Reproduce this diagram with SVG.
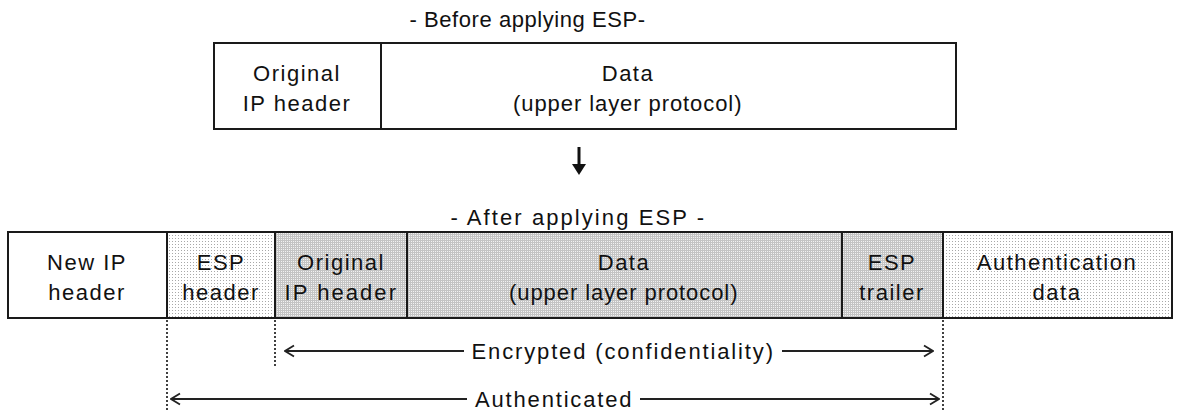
<svg xmlns="http://www.w3.org/2000/svg" width="1179" height="410" viewBox="0 0 1179 410">
<style>
text{font-family:"Liberation Sans",Arial,sans-serif;font-size:22px;fill:#111;text-anchor:middle;letter-spacing:1.5px}
.box{stroke:#1a1a1a;stroke-width:2}
.dot{stroke:#111;stroke-width:1.6;stroke-dasharray:2 2;fill:none}
.arr{stroke:#222;stroke-width:1.8;fill:none}
</style>
<defs>
<pattern id="light" width="3" height="3" patternUnits="userSpaceOnUse">
<rect width="3" height="3" fill="#fff"/>
<rect x="1" y="1" width="1" height="1" fill="#a8a8a8"/>
</pattern>
<pattern id="dark" width="2" height="2" patternUnits="userSpaceOnUse">
<rect width="2" height="2" fill="#c4c4c4"/>
<rect x="1" y="1" width="1" height="1" fill="#f2f2f2"/>
</pattern>
<marker id="open" viewBox="0 0 12 14" refX="11" refY="7" markerWidth="12" markerHeight="14" markerUnits="userSpaceOnUse" orient="auto-start-reverse">
<path d="M2,1.5 L11,7 L2,12.5" fill="none" stroke="#222" stroke-width="1.8"/>
</marker>
</defs>

<text x="528" y="27" textLength="237" lengthAdjust="spacing">- Before applying ESP-</text>

<g id="before-orig-ip">
<rect class="box" x="214" y="43" width="167" height="86" fill="#fff"/>
<text x="297" y="81">Original</text>
<text x="297" y="111">IP header</text>
</g>
<g id="before-data">
<rect class="box" x="381" y="43" width="575" height="86" fill="#fff"/>
<text x="628" y="81">Data</text>
<text x="628" y="111" textLength="230" lengthAdjust="spacing">(upper layer protocol)</text>
</g>

<g id="down-arrow">
<line x1="579" y1="147" x2="579" y2="167" stroke="#111" stroke-width="3"/>
<path d="M572,164 L586,164 L579,175 Z" fill="#111"/>
</g>

<text x="578" y="225" textLength="255" lengthAdjust="spacing">- After applying ESP -</text>

<g id="new-ip">
<rect class="box" x="8" y="232" width="159" height="86" fill="#fff"/>
<text x="87" y="270">New IP</text>
<text x="87" y="300">header</text>
</g>
<g id="esp-header">
<rect class="box" x="167" y="232" width="108" height="86" fill="url(#light)"/>
<text x="221" y="270">ESP</text>
<text x="221" y="300">header</text>
</g>
<g id="orig-ip">
<rect class="box" x="275" y="232" width="132" height="86" fill="url(#dark)"/>
<text x="341" y="270">Original</text>
<text x="341" y="300" textLength="113" lengthAdjust="spacing">IP header</text>
</g>
<g id="data">
<rect class="box" x="407" y="232" width="435" height="86" fill="url(#dark)"/>
<text x="624" y="270">Data</text>
<text x="624" y="300" textLength="230" lengthAdjust="spacing">(upper layer protocol)</text>
</g>
<g id="esp-trailer">
<rect class="box" x="842" y="232" width="101" height="86" fill="url(#dark)"/>
<text x="892" y="270">ESP</text>
<text x="892" y="300">trailer</text>
</g>
<g id="auth-data">
<rect class="box" x="943" y="232" width="229" height="86" fill="url(#light)"/>
<text x="1057" y="270">Authentication</text>
<text x="1057" y="300">data</text>
</g>

<g id="connectors">
<line class="dot" x1="167" y1="320" x2="167" y2="410"/>
<line class="dot" x1="275" y1="320" x2="275" y2="368"/>
<line class="dot" x1="943" y1="320" x2="943" y2="410"/>
<line class="arr" x1="464" y1="351" x2="285" y2="351" marker-end="url(#open)"/>
<line class="arr" x1="782" y1="351" x2="933" y2="351" marker-end="url(#open)"/>
<line class="arr" x1="467" y1="399" x2="171" y2="399" marker-end="url(#open)"/>
<line class="arr" x1="640" y1="399" x2="939" y2="399" marker-end="url(#open)"/>
</g>
<text x="623" y="359" textLength="303" lengthAdjust="spacing">Encrypted (confidentiality)</text>
<text x="554" y="407" textLength="158" lengthAdjust="spacing">Authenticated</text>
</svg>
